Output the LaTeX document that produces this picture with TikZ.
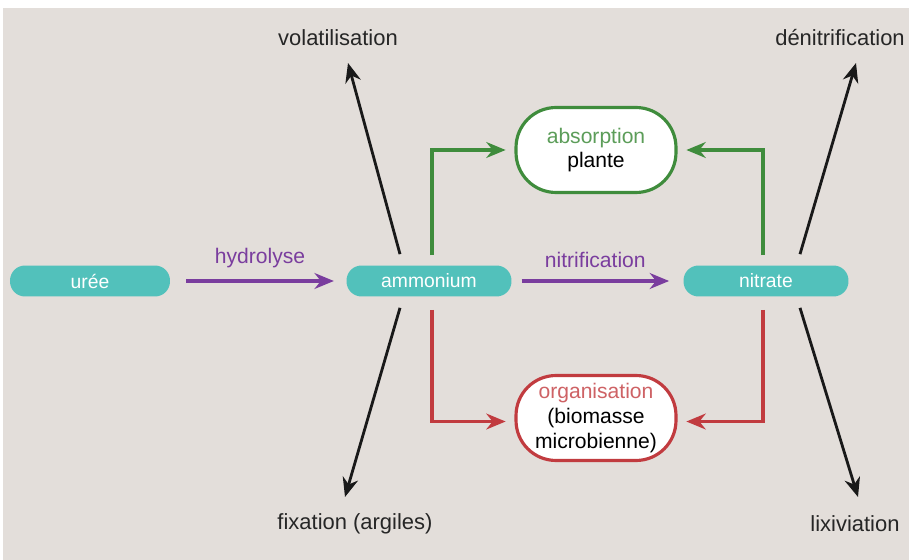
\documentclass[tikz,border=0pt]{standalone}
\usepackage{fontspec}
\setmainfont{Liberation Sans}
\usetikzlibrary{arrows.meta,positioning}
\definecolor{fond}{HTML}{E3DEDA}
\definecolor{turq}{HTML}{52C1BB}
\definecolor{violet}{HTML}{7A3D9E}
\definecolor{vert}{HTML}{3F8C3C}
\definecolor{rouge}{HTML}{C13B3F}
\tikzset{
	>={Stealth[length=11pt,width=9pt]},
	every node/.style={font=\fontsize{12}{14}\selectfont},
	pool/.style={
		fill=turq,
		text=white,
		font=\fontsize{11}{13}\selectfont,
		rounded corners=0.3cm,
		minimum width=3.3cm,
		minimum height=0.62cm
	},
	bulle/.style={
		draw=#1,
		fill=white,
		line width=1.8pt,
		rounded corners=0.8cm,
		minimum width=3.2cm,
		minimum height=1.7cm,
		align=center
	},
	sortie/.style={text=black!85, font=\fontsize{12.5}{15}\selectfont},
	flux/.style={->, line width=2pt, color=violet},
	perte/.style={->, line width=1.6pt, color=black!90},
	voie/.style={->, line width=2pt, color=#1, shorten >=5pt}
}
\begin{document}
\begin{tikzpicture}[x=0.02cm,y=-0.02cm]
  \useasboundingbox (0,0) rectangle (909,560);
  \fill[fond] (3,8) rectangle (909,560);

  \node[pool,minimum width=3.2cm] (uree) at (90,281) {urée};
  \node[pool] (amm) at (429,281) {ammonium};
  \node[pool] (nit) at (766,281) {nitrate};

  \node[bulle=vert] (abs) at (596,150)
        {\textcolor{vert!85!white}{absorption}\\plante};
  \node[bulle=rouge] (org) at (596,418)
        {\textcolor{rouge!80!white}{organisation}\\(biomasse\\microbienne)};

  \node[sortie] (vol) at (338,38) {volatilisation};
  \node[sortie] (fix) at (355,524) {fixation (argiles)};
  \node[sortie] (den) at (840,38) {dénitrification};
  \node[sortie] (lix) at (855,524) {lixiviation};

  \coordinate (volpt) at (348,63);
  \coordinate (fixpt) at (345,497);
  \coordinate (denpt) at (856,63);
  \coordinate (lixpt) at (858,497);

  % transformations
  \draw[flux] ([xshift=9pt]uree.east) -- ([xshift=-7pt]amm.west)
        node[midway,above=3pt,text=violet] {hydrolyse};
  \draw[flux] ([xshift=5.5pt]amm.east) -- ([xshift=-8pt]nit.west)
        node[midway,above=3pt,text=violet] {nitrification};

  % absorption / organisation
  \draw[voie=vert] (amm.north) ++(3,-10) |- (abs.west);
  \draw[voie=vert] (nit.north) ++(-3,-10) |- (abs.east);
  \draw[voie=rouge] (amm.south) ++(3,13) |- ([yshift=-2]org.west);
  \draw[voie=rouge] (nit.south) ++(-3,13) |- ([yshift=-2]org.east);

  % pertes
  \draw[perte] (amm.north) ++(-29,-11) -- (volpt);
  \draw[perte] (amm.south) ++(-29,11) -- (fixpt);
  \draw[perte] (nit.north) ++(34,-11) -- (denpt);
  \draw[perte] (nit.south) ++(34,11) -- (lixpt);
\end{tikzpicture}
\end{document}
